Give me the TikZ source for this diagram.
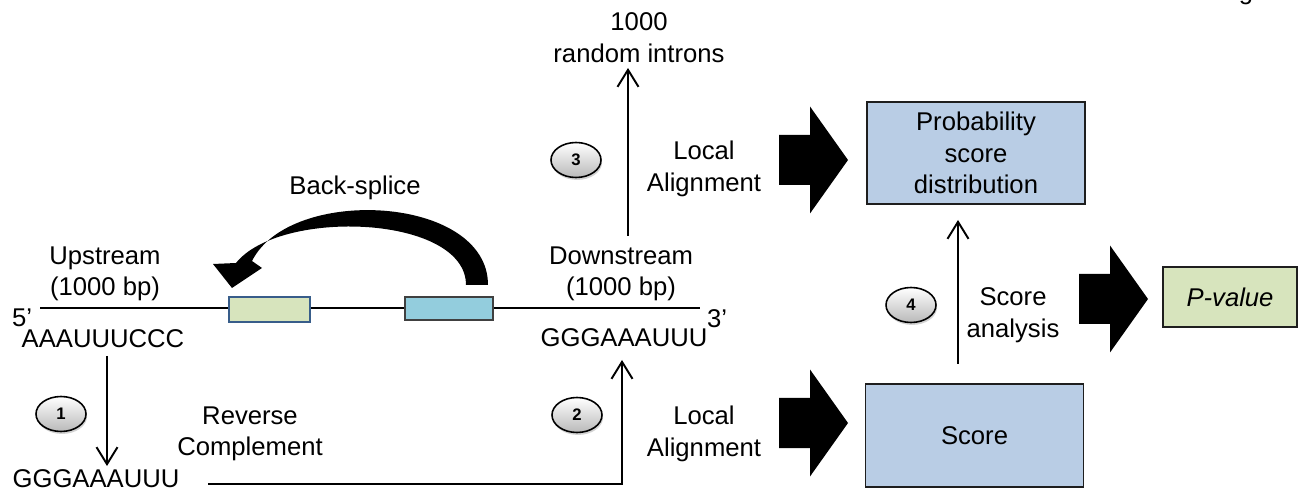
\documentclass[tikz,border=0pt]{standalone}
\usepackage{fontspec}
\setmainfont{Liberation Sans}
\usepackage{tikz}
\usetikzlibrary{shapes.geometric}
\usetikzlibrary{shadows}
\usetikzlibrary{arrows.meta}
\pgfdeclarelayer{edgelayer}
\pgfdeclarelayer{nodelayer}
\pgfsetlayers{edgelayer,nodelayer,main}
\definecolor{boxblue}{RGB}{185,205,229}
\definecolor{boxgreen}{RGB}{215,228,189}
\definecolor{exoncyan}{RGB}{147,205,221}
\definecolor{exonline}{RGB}{56,93,138}
\definecolor{boxline}{RGB}{30,30,30}
\tikzstyle{none}=[inner sep=0pt]
\tikzstyle{words}=[inner sep=0pt, align=center]
\tikzstyle{result box}=[draw=boxline, line width=1pt, align=center, minimum width=4.36cm, minimum height=2.04cm]
\tikzstyle{exon up}=[draw=exonline, fill=boxgreen, line width=1.2pt, minimum width=1.62cm, minimum height=0.5cm]
\tikzstyle{exon down}=[draw=darkgray, fill=exoncyan, line width=0.8pt, minimum width=1.76cm, minimum height=0.46cm]
\tikzstyle{stage disc}=[ellipse, draw, line width=0.9pt, top color=white, bottom color=gray!55, minimum width=1.0cm, minimum height=0.7cm, inner sep=0pt, font=\fontsize{9.5}{9.5}\selectfont\bfseries, drop shadow={shadow xshift=0.6pt, shadow yshift=-1.4pt, opacity=0.35}]
\tikzstyle{flow}=[-{Straight Barb[length=3.4mm, width=4.2mm]}, line width=1.1pt]
\tikzstyle{strand}=[line width=1.6pt]
\tikzset{fat arrow/.pic={\fill (0,-2.5) -- (3.1,-2.5) -- (3.1,-5.35) -- (6.9,0) -- (3.1,5.35) -- (3.1,2.5) -- (0,2.5) -- cycle;}}
\begin{document}
\begin{tikzpicture}[x=0.2cm, y=-0.2cm, font=\fontsize{14.6}{18}\selectfont]
	\useasboundingbox (0,0) rectangle (129.8,50.2);
	\begin{pgfonlayer}{nodelayer}
		\node [style=none] (0) at (4.0, 30.8) {};
		\node [style=none] (1) at (70.0, 30.8) {};
		\node [style=exon up] (2) at (26.95, 30.95) {};
		\node [style=exon down] (3) at (44.9, 30.85) {};
		\node [style=none] (4) at (2.2, 31.8) {5’};
		\node [style=none] (5) at (71.7, 31.9) {3’};
		\node [style=words] (6) at (10.5, 27.4) {Upstream\\(1000 bp)};
		\node [style=words] (7) at (62.1, 27.4) {Downstream\\(1000 bp)};
		\node [style=none] (8) at (10.3, 33.9) {AAAUUUCCC};
		\node [style=none] (9) at (62.4, 33.8) {GGGAAAUUU};
		\node [style=none] (10) at (9.6, 47.9) {GGGAAAUUU};
		\node [style=words] (11) at (35.5, 18.8) {Back-splice};
		\node [style=words] (12) at (25.0, 43.4) {Reverse\\Complement};
		\node [style=words] (13) at (70.4, 43.4) {Local\\Alignment};
		\node [style=words] (14) at (70.4, 16.9) {Local\\Alignment};
		\node [style=words] (15) at (63.9, 3.75) {1000\\random introns};
		\node [style=words] (16) at (101.3, 31.5) {Score\\analysis};
		\node [style=result box, fill=boxblue] (17) at (97.6, 15.3) {Probability\\score\\distribution};
		\node [style=result box, fill=boxblue, minimum height=2.06cm] (18) at (97.45, 43.55) {Score};
		\node [style=result box, fill=boxgreen, minimum width=2.68cm, minimum height=1.2cm] (19) at (123.0, 29.7) {\textit{P-value}};
		\node [style=stage disc] (20) at (6.1, 41.4) {1};
		\node [style=stage disc] (21) at (57.7, 41.5) {2};
		\node [style=stage disc] (22) at (57.6, 16.0) {3};
		\node [style=stage disc] (23) at (91.1, 30.5) {4};
		\node [style=none] (24) at (10.7, 35.6) {};
		\node [style=none] (25) at (10.7, 46.6) {};
		\node [style=none] (26) at (20.8, 48.4) {};
		\node [style=none] (27) at (62.2, 48.4) {};
		\node [style=none] (28) at (62.2, 36.0) {};
		\node [style=none] (29) at (62.8, 23.6) {};
		\node [style=none] (30) at (62.8, 6.8) {};
		\node [style=none] (31) at (95.8, 36.4) {};
		\node [style=none] (32) at (95.8, 22.0) {};
		\node [style=none, anchor=base] (33) at (124.6, 0) {g};
	\end{pgfonlayer}
	\begin{pgfonlayer}{edgelayer}
		\draw [style=strand] (0.center) to (1.center);
		\draw [style=flow] (24.center) to (25.center);
		\draw [style=flow] (26.center) -- (27.center) -- (28.center);
		\draw [style=flow] (29.center) to (30.center);
		\draw [style=flow] (31.center) to (32.center);
	\end{pgfonlayer}
	% back-splice arrow
	\fill (48.8, 28.5) .. controls (48.8, 19.5) and (29.0, 18.5) .. (25.2, 26.1)
		-- (26.2, 26.8) -- (23.2, 28.8) -- (21.3, 26.4) -- (23.6, 26.3)
		.. controls (28.0, 20.8) and (46.6, 21.5) .. (46.6, 28.5) -- cycle;
	\pic at (77.9, 16.0) {fat arrow};
	\pic at (77.9, 42.3) {fat arrow};
	\pic at (107.9, 29.9) {fat arrow};
\end{tikzpicture}
\end{document}
